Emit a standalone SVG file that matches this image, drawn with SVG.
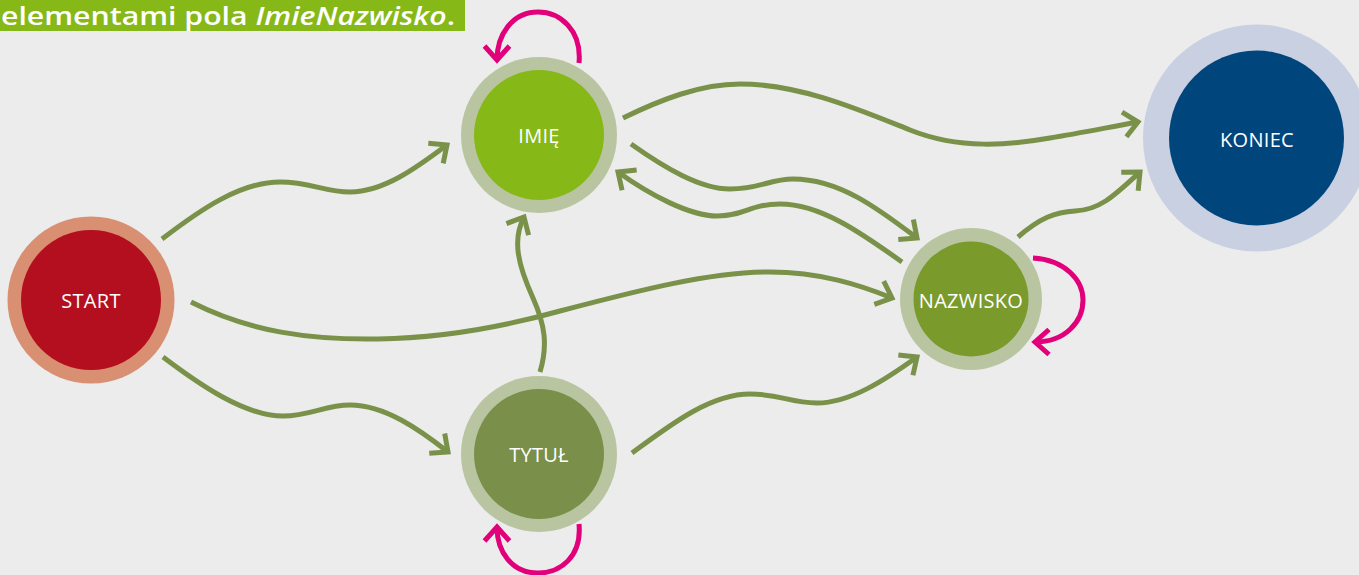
<svg xmlns="http://www.w3.org/2000/svg" width="1359" height="575" viewBox="0 0 1359 575">
  <defs>
    <marker id="arrow-green" markerUnits="userSpaceOnUse" orient="auto" overflow="visible" markerWidth="1" markerHeight="1">
      <path d="M-14,-12.5 L0,0 L-14,12.5" fill="none" stroke="#7a9149" stroke-width="5"/>
    </marker>
    <marker id="arrow-pink" markerUnits="userSpaceOnUse" orient="auto" overflow="visible" markerWidth="1" markerHeight="1">
      <path d="M-14,-12.5 L0,0 L-14,12.5" fill="none" stroke="#e2007a" stroke-width="5"/>
    </marker>
  </defs>
  <style>
    .edge { fill: none; stroke: #7a9149; stroke-width: 5; marker-end: url(#arrow-green); }
    .loop { fill: none; stroke: #e2007a; stroke-width: 5; marker-end: url(#arrow-pink); }
    .label { font-family: "Open Sans", "Noto Sans", sans-serif; font-size: 20px; fill: #ffffff; text-anchor: middle; letter-spacing: 0.3px; }
    .ring-green { fill: #b9c5a0; }
  </style>

  <rect width="1359" height="575" fill="#ececec"/>

  <!-- caption strip -->
  <g id="caption">
    <rect x="0" y="0" width="465" height="31" fill="#86b818"/>
    <text x="1" y="25" font-family="Open Sans, Noto Sans, sans-serif" font-size="26" font-weight="600" fill="#ffffff" textLength="454" lengthAdjust="spacingAndGlyphs">elementami pola <tspan font-style="italic">ImieNazwisko</tspan>.</text>
  </g>

  <!-- transitions -->
  <g id="connectors">
    <path class="edge" d="M162,239 C200,210 240,182 280,182 C310,182 325,192 350,192 C385,192 420,165 447,145"/>
    <path class="edge" d="M191,302 C250,332 310,340 378,339 C450,338 510,325 560,311 C640,290 710,272 770,272 C820,272 860,285 892,298"/>
    <path class="edge" d="M163,357 C200,385 245,416 283,416 C310,416 325,405 350,405 C385,405 420,430 448,452"/>
    <path class="edge" d="M540,372 C548,345 545,325 533,298 C518,265 512,240 524,217"/>
    <path class="edge" d="M623,118 C660,100 700,84 740,84 C800,84 860,110 910,130 C960,150 1010,145 1050,138 C1080,133 1110,127 1138,122"/>
    <path class="edge" d="M631,144 C665,168 700,189 730,189 C760,189 770,179 793,179 C840,179 880,210 917,238"/>
    <path class="edge" d="M902,262 C860,232 820,204 780,204 C750,204 745,216 717,216 C690,216 650,195 618,172"/>
    <path class="edge" d="M632,453 C670,425 710,394 750,394 C780,394 790,403 817,403 C850,403 885,380 917,357"/>
    <path class="edge" d="M1018,237 C1040,218 1055,212 1075,211 C1100,210 1115,195 1140,172"/>
    <path class="loop" d="M579,63 C582,30 560,12 538,12 C512,12 497,35 497,60"/>
    <path class="loop" d="M579,524 C582,557 560,573 538,573 C512,573 497,552 497,527"/>
    <path class="loop" d="M1033,258 C1065,260 1083,280 1083,300 C1083,322 1065,342 1035,342"/>
  </g>

  <g id="start">
    <circle cx="91" cy="300" r="83.5" fill="#d88f72"/>
    <circle cx="91" cy="300" r="70" fill="#b40f1f"/>
    <text class="label" x="91" y="308">START</text>
  </g>

  <g id="imie">
    <circle cx="539" cy="135" r="78" class="ring-green"/>
    <circle cx="539" cy="135" r="65" fill="#86b818"/>
    <text class="label" x="539" y="143">IMIĘ</text>
  </g>

  <g id="tytul">
    <circle cx="539" cy="454" r="78" class="ring-green"/>
    <circle cx="539" cy="454" r="65" fill="#7a8f4a"/>
    <text class="label" x="539" y="462">TYTUŁ</text>
  </g>

  <g id="nazwisko">
    <circle cx="971" cy="299" r="71" class="ring-green"/>
    <circle cx="971" cy="299" r="57.5" fill="#7a9a2c"/>
    <text class="label" x="971" y="308">NAZWISKO</text>
  </g>

  <g id="koniec">
    <circle cx="1256.5" cy="138" r="113.5" fill="#c9d0e2"/>
    <circle cx="1256.5" cy="138" r="87.5" fill="#00467d"/>
    <text class="label" x="1257" y="147" font-size="21">KONIEC</text>
  </g>
</svg>
